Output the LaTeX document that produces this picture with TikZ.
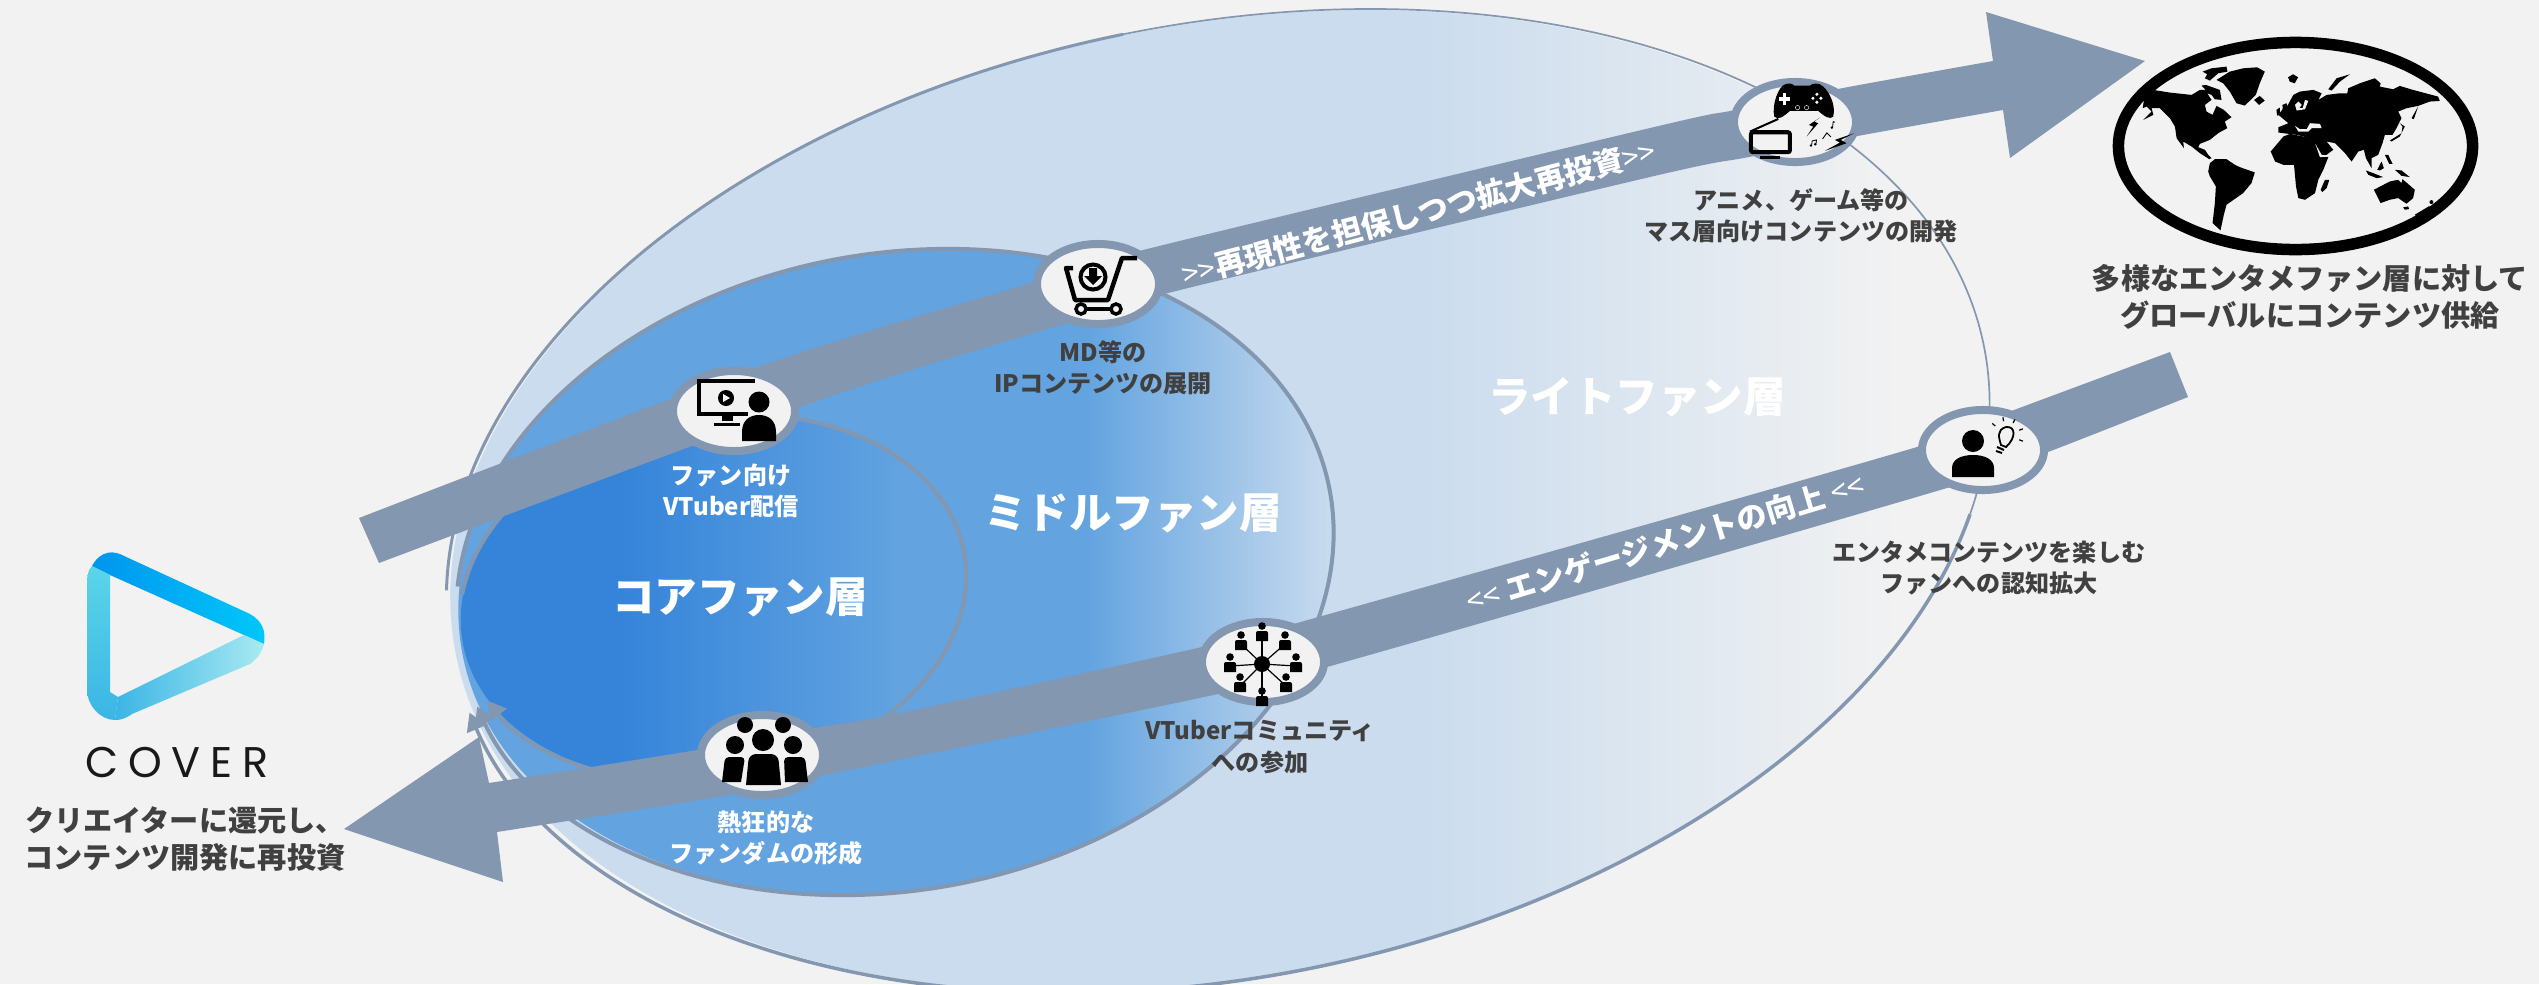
\documentclass[tikz,border=0pt]{standalone}
\usepackage{fontspec}
\usepackage{tikz}
\usetikzlibrary{shapes.geometric,arrows.meta}
\newfontfamily\jpfont{Noto Sans CJK JP}
\newfontfamily\coverfont[LetterSpace=23]{Poppins}
\definecolor{paperGrey}{HTML}{F2F2F2}
\definecolor{lightFan}{HTML}{CADCEE}
\definecolor{middleFan}{HTML}{62A3E0}
\definecolor{coreFan}{HTML}{3584DA}
\definecolor{flowGrey}{HTML}{8497B0}
\definecolor{labelGrey}{HTML}{404040}
\definecolor{logoDeep}{HTML}{0095EE}
\definecolor{logoSky}{HTML}{00C8FA}
\definecolor{logoAqua}{HTML}{5AD5E8}
\definecolor{logoMid}{HTML}{3BB5E5}
\definecolor{logoTeal}{HTML}{5FDCEA}
\definecolor{logoPale}{HTML}{A8EAF2}
\tikzset{
  iconring/.style={ellipse,draw=flowGrey,fill=paperGrey,line width=0.08cm,minimum width=1.22cm,minimum height=0.80cm,inner sep=0pt},
  layertitle/.style={text=white,font=\jpfont\bfseries\fontsize{12.1}{14}\selectfont},
  smalldark/.style={align=center,text=labelGrey,font=\jpfont\bfseries\fontsize{6.85}{8.9}\selectfont},
  smallwhite/.style={align=center,text=white,font=\jpfont\bfseries\fontsize{6.85}{8.9}\selectfont},
  bigdark/.style={align=center,text=labelGrey,font=\jpfont\bfseries\fontsize{8.3}{10.4}\selectfont},
  flowtext/.style={text=white,font=\jpfont\bfseries\fontsize{8.6}{10}\selectfont},
  ringtip/.style={-{Triangle[length=0.18cm,width=0.2cm]},draw=flowGrey},
}
\begin{document}
\begin{tikzpicture}[x=0.01cm,y=-0.01cm]
	\path[use as bounding box,clip] (0,0) rectangle (2539,984);
	\fill[paperGrey] (0,0) rectangle (2539,984);
	% fan layers
	\begin{scope}
		\clip[rotate around={11.5:(1218,501)}] (1218,501) ellipse [x radius=7.77cm,y radius=4.75cm];
		\fill[lightFan] (400,0) rectangle (1420,1000);
		\shade[left color=lightFan,right color=paperGrey] (1420,0) rectangle (1900,1000);
		\fill[paperGrey] (1900,0) rectangle (2050,1000);
	\end{scope}
	\begin{scope}
		\clip[rotate around={10.6:(895,572)}] (895,572) ellipse [x radius=4.40cm,y radius=3.17cm];
		\fill[middleFan] (400,200) rectangle (1085,950);
		\shade[left color=middleFan,right color=lightFan] (1085,200) rectangle (1335,950);
	\end{scope}
	\begin{scope}
		\clip[rotate around={10:(713,598)}] (713,598) ellipse [x radius=2.54cm,y radius=1.80cm];
		\fill[coreFan] (400,380) rectangle (620,820);
		\shade[left color=coreFan,right color=middleFan] (620,380) rectangle (900,820);
		\fill[middleFan] (900,380) rectangle (980,820);
	\end{scope}
	% outlines, open at the left
	\begin{scope}[shift={(1218,501)},rotate=11.5]
		\draw[flowGrey,line width=0.03cm] (172:7.81cm and 4.76cm) arc [start angle=172,delta angle=-82,x radius=7.81cm,y radius=4.76cm];
		\draw[flowGrey,line width=0.017cm] (90:7.81cm and 4.76cm) arc [start angle=90,delta angle=-110,x radius=7.81cm,y radius=4.76cm];
		\draw[ringtip,line width=0.035cm] (-20:7.81cm and 4.76cm) arc [start angle=-20,delta angle=-153,x radius=7.81cm,y radius=4.76cm];
	\end{scope}
	\begin{scope}[shift={(895,572)},rotate=10.6]
		\draw[ringtip,line width=0.04cm] (168:4.42cm and 3.18cm) arc [start angle=168,delta angle=-338,x radius=4.42cm,y radius=3.18cm];
	\end{scope}
	\begin{scope}[shift={(713,598)},rotate=10]
		\draw[ringtip,line width=0.04cm] (165:2.55cm and 1.81cm) arc [start angle=165,delta angle=-325,x radius=2.55cm,y radius=1.81cm];
	\end{scope}
	% flows
	\fill[flowGrey] plot[smooth] coordinates {(359,518) (755,368) (1034,282) (1143,250) (1650,128) (1735,110) (1843,88) (1993,61)}
		-- (1986,12) -- (2145,61) -- (2010,158) -- (2003,110)
		-- plot[smooth] coordinates {(2003,110) (1863,135) (1749,157) (1650,177) (1168,293) (1067,323) (805,405) (379,563)} -- cycle;
	\fill[flowGrey] plot[smooth] coordinates {(2170,352) (2014,410) (1917,447) (1297,623) (1202,647) (900,713) (815,728) (697,750) (489,783)}
		-- (479,737) -- (344,829) -- (503,882) -- (497,832)
		-- plot[smooth] coordinates {(497,832) (729,795) (815,777) (1204,697) (1327,667) (1947,488) (2048,452) (2188,397)} -- cycle;
	\node[flowtext,rotate=14.8] (upflow) at (1419,213) {{\mdseries >>}再現性を担保しつつ拡大再投資{\mdseries >>}};
	\node[flowtext,rotate=16.7] (downflow) at (1665,543) {{\mdseries <<} エンゲージメントの向上 {\mdseries <<}};
	% icon rings
	\node[iconring] (streamring) at (734,411) {};
	\node[iconring] (goodsring) at (1098,284) {};
	\node[iconring] (gamering) at (1795,122) {};
	\node[iconring] (fandomring) at (762,755) {};
	\node[iconring] (communityring) at (1263,662) {};
	\node[iconring] (idearing) at (1983,450) {};
	% stream icon
	\draw[line width=0.035cm] (755,381) -- (699,381) -- (699,414) -- (748,414);
	\fill (726,398) circle [radius=0.08cm];
	\fill[white] (723,394) -- (723,402) -- (730,398) -- cycle;
	\fill (722,415) rectangle (733,421);
	\fill (714,423) rectangle (740,426);
	\fill (759,402) circle [radius=0.105cm];
	\fill (742,441) -- (742,432) .. controls (742,420) and (750,415) .. (759,415) .. controls (768,415) and (776,420) .. (776,432) -- (776,441) -- cycle;
	% goods icon
	\draw[line width=0.045cm,line join=round] (1137,258) -- (1122,258) -- (1108,300) -- (1075,300) -- (1066,268) -- (1073,268);
	\draw[line width=0.04cm] (1093,277) circle [radius=0.125cm];
	\fill (1089,268) -- (1097,268) -- (1097,276) -- (1102,276) -- (1093,285) -- (1084,276) -- (1089,276) -- cycle;
	\draw[line width=0.035cm] (1081,309) -- (1116,309);
	\draw[line width=0.035cm,fill=paperGrey] (1081,309) circle [radius=0.05cm];
	\draw[line width=0.035cm,fill=paperGrey] (1116,309) circle [radius=0.05cm];
	% game icon
	\begin{scope}[shift={(1735,75)},x=0.00333cm,y=-0.00333cm]
		\fill (118,125) .. controls (110,90) and (130,35) .. (150,28) .. controls (165,22) and (175,28) .. (178,32) -- (225,32) .. controls (232,25) and (245,24) .. (255,28) .. controls (280,40) and (305,90) .. (295,125) .. controls (285,135) and (270,125) .. (250,108) -- (165,108) .. controls (145,125) and (130,137) .. (118,125) -- cycle;
		\fill[white] (143,55) rectangle (153,90);
		\fill[white] (131,67) rectangle (165,77);
		\foreach \bx/\by in {246/58,246/82,234/70,258/70} {
			\fill[white] (\bx,\by) circle [radius=0.017cm];
		}
		\draw[white,line width=0.004cm] (188,98) circle [radius=0.022cm];
		\draw[white,line width=0.004cm] (215,98) circle [radius=0.022cm];
		\draw[line width=0.02cm] (130,132) -- (45,170);
		\draw[line width=0.04cm,rounded corners=0.02cm] (48,172) rectangle (165,232);
		\fill (75,243) rectangle (135,251);
		\fill (255,128) -- (222,150) -- (235,155) -- (215,185) -- (250,145) -- (238,140) -- cycle;
		\fill (358,175) -- (300,195) -- (315,203) -- (270,228) -- (335,205) -- (318,195) -- cycle;
		\draw[line width=0.008cm] (230,212) -- (232,198) -- (245,195) -- (243,208);
		\fill (228,212) circle [radius=0.013cm];
		\fill (241,208) circle [radius=0.013cm];
		\draw[line width=0.008cm] (293,158) -- (295,140) -- (300,142);
		\fill (291,158) circle [radius=0.013cm];
		\draw[line width=0.009cm] (263,192) -- (276,174) -- (288,186);
	\end{scope}
	% fandom icon
	\fill (745,725) circle [radius=0.08cm];
	\fill (783,725) circle [radius=0.08cm];
	\fill (735,745) circle [radius=0.09cm];
	\fill (793,745) circle [radius=0.09cm];
	\fill (763,740) circle [radius=0.11cm];
	\fill (722,782) {[rounded corners=0.04cm] -- (725,757) -- (745,757)} -- (741,782) -- cycle;
	\fill (785,782) {[rounded corners=0.04cm] -- (784,757) -- (805,757)} -- (808,782) -- cycle;
	\fill (746,785) {[rounded corners=0.07cm] -- (749,754) -- (778,754)} -- (781,785) -- cycle;
	% community icon
	\fill (1262,664) circle [radius=0.08cm];
	\foreach \fx/\fy in {1262/626,1241/635,1285/635,1230/657,1296/657,1240/677,1286/677,1262/691} {
		\draw[line width=0.012cm] (1262,664) -- (\fx,\fy+9);
		\fill (\fx,\fy) circle [radius=0.038cm];
		\fill (\fx-6,\fy+15) {[rounded corners=0.02cm] -- (\fx-6,\fy+5) -- (\fx+6,\fy+5)} -- (\fx+6,\fy+15) -- cycle;
	}
	% idea icon
	\fill (1973,441) circle [radius=0.11cm];
	\fill (1952,477) -- (1952,468) .. controls (1952,460) and (1960,455) .. (1973,455) .. controls (1986,455) and (1994,460) .. (1994,468) -- (1994,477) -- cycle;
	\draw[line width=0.018cm] (2001,445) .. controls (1999,438) and (1996,430) .. (2006,427) .. controls (2016,426) and (2016,438) .. (2006,447) -- cycle;
	\draw[line width=0.02cm] (1997,447) -- (2004,450);
	\draw[line width=0.02cm] (1996,451) -- (2002,453);
	\foreach \rayangle in {-5,35,75,115,155} {
		\draw[line width=0.012cm] ([shift={(\rayangle-15:0.14cm)}]2006,435) -- ([shift={(\rayangle-15:0.18cm)}]2006,435);
	}
	% world
	\node[ellipse,draw=black,line width=0.115cm,minimum width=3.54cm,minimum height=2.07cm,inner sep=0pt] (worldring) at (2295.5,146) {};
	\begin{scope}[shift={(2120,40)},x=0.00333cm,y=-0.00333cm]
		\fill (100,150) -- (150,158) -- (215,165) -- (240,150) -- (258,150) -- (245,137) -- (258,135) -- (300,150) -- (305,180) -- (285,178) -- (275,165) -- (262,160) -- (275,180) -- (255,195) -- (260,215) -- (278,225) -- (290,198) -- (312,210) -- (335,232) -- (315,245) -- (322,265) -- (295,280) -- (270,300) -- (240,312) -- (235,322) -- (255,330) -- (265,345) -- (275,355) -- (268,358) -- (240,340) -- (215,320) -- (190,305) -- (192,325) -- (170,295) -- (165,260) -- (150,235) -- (120,205) -- (95,205) -- (100,225) -- (70,240) -- (95,215) -- (80,200) -- (68,205) -- (72,180) -- cycle;
		\fill (248,95) -- (275,85) -- (320,80) -- (323,95) -- (295,100) -- (270,122) -- (255,115) -- (262,103) -- cycle;
		\fill (290,120) -- (330,95) -- (370,85) -- (412,82) -- (435,95) -- (420,130) -- (408,165) -- (375,197) -- (350,190) -- (330,155) -- (310,130) -- cycle;
		\fill (403,180) -- (420,168) -- (435,182) -- (418,195) -- cycle;
		\fill (265,395) -- (270,370) -- (285,358) -- (320,358) -- (345,375) -- (360,382) -- (405,398) -- (395,430) -- (370,460) -- (320,495) -- (312,525) -- (302,572) -- (278,550) -- (285,490) -- (288,440) -- (270,410) -- cycle;
		\fill (505,112) -- (520,103) -- (535,112) -- (525,130) -- (510,125) -- cycle;
		\fill (488,195) -- (500,190) -- (510,220) -- (500,235) -- (490,225) -- cycle;
		\fill (470,210) -- (480,203) -- (480,225) -- (472,227) -- cycle;
	\end{scope}
	\begin{scope}[shift={(2290,40)},x=0.00333cm,y=-0.00333cm]
		\fill (-58,335) -- (-20,290) -- (0,282) -- (40,290) -- (75,295) -- (80,320) -- (100,350) -- (115,352) -- (100,390) -- (85,420) -- (75,460) -- (45,480) -- (25,475) -- (18,440) -- (12,375) -- (-20,375) -- (-45,365) -- cycle;
		\fill (-35,262) -- (-5,250) -- (-35,225) -- (-20,205) -- (-8,198) -- (10,165) -- (30,155) -- (70,150) -- (95,160) -- (85,180) -- (110,165) -- (150,160) -- (172,160) -- (175,145) -- (210,130) -- (255,115) -- (272,130) -- (270,140) -- (310,148) -- (330,138) -- (370,150) -- (445,170) -- (450,183) -- (420,185) -- (385,198) -- (350,205) -- (325,215) -- (335,235) -- (320,265) -- (308,285) -- (285,285) -- (278,310) -- (265,345) -- (245,355) -- (245,385) -- (228,355) -- (222,330) -- (205,335) -- (185,365) -- (165,340) -- (135,310) -- (110,305) -- (130,330) -- (110,345) -- (88,345) -- (78,315) -- (60,295) -- (20,285) -- (-20,280) -- (-35,278) -- cycle;
		\fill[paperGrey] (45,180) -- (55,183) -- (45,208) -- (20,212) -- (15,195) -- (25,185) -- (35,195) -- (28,205) -- (38,205) -- cycle;
		\fill[paperGrey] (60,250) -- (90,252) -- (95,265) -- (65,265) -- (55,275) -- (25,275) -- (15,258) -- (30,268) -- (50,268) -- cycle;
		\fill[paperGrey] (76,312) -- (95,345) -- (115,350) -- (90,352) -- cycle;
		\fill (115,148) -- (140,115) -- (180,103) -- (150,125) -- (125,152) -- cycle;
		\fill (365,235) -- (385,200) -- (372,238) -- cycle;
		\fill (300,302) -- (335,280) -- (338,260) -- (330,250) -- (345,260) -- (330,290) -- (305,305) -- cycle;
		\fill (285,345) -- (295,345) -- (308,372) -- (298,372) -- cycle;
		\fill (262,390) -- (275,365) -- (282,385) -- (270,392) -- cycle;
		\fill (228,392) -- (250,400) -- (280,412) -- (260,415) -- (235,405) -- cycle;
		\fill (315,390) -- (335,392) -- (360,412) -- (335,408) -- cycle;
		\fill (252,450) -- (300,425) -- (325,420) -- (335,430) -- (338,418) -- (375,450) -- (370,475) -- (350,492) -- (325,475) -- (300,480) -- (272,490) -- (262,470) -- cycle;
		\fill (340,503) -- (355,500) -- (358,508) -- (345,510) -- cycle;
		\fill (375,525) -- (420,498) -- (415,508) -- (380,530) -- cycle;
		\fill (425,487) circle [radius=0.02cm];
		\fill (92,450) -- (105,420) -- (118,420) -- (110,445) -- (97,457) -- cycle;
	\end{scope}
	% cover logo
	\shade[left color=logoDeep,right color=logoSky] (92,566) .. controls (97,556) and (108,548) .. (122,555) -- (250,614) .. controls (262,621) and (266,630) .. (264,644) -- (244,635) -- (110,575) -- cycle;
	\shade[top color=logoAqua,bottom color=logoMid] (92,566) .. controls (88,570) and (87,576) .. (87,584) -- (87,690) .. controls (87,705) and (100,720) .. (115,720) -- (118,697) -- (110,692) -- (110,575) -- cycle;
	\shade[left color=logoMid,middle color=logoTeal,right color=logoPale] (118,697) -- (244,635) -- (264,644) .. controls (262,652) and (258,658) .. (250,664) -- (132,714) .. controls (125,719) and (120,720) .. (115,720) -- cycle;
	\node[text=black!90,font=\coverfont\fontsize{12.2}{14}\selectfont] (covername) at (177,762) {COVER};
	% texts
	\node[bigdark] (coverlabel) at (185,839) {クリエイターに還元し、\\コンテンツ開発に再投資};
	\node[bigdark] (worldlabel) at (2310,297) {多様なエンタメファン層に対して\\グローバルにコンテンツ供給};
	\node[layertitle] (coretitle) at (740,597) {コアファン層};
	\node[layertitle] (middletitle) at (1133,513) {ミドルファン層};
	\node[layertitle] (lighttitle) at (1637,397) {ライトファン層};
	\node[smallwhite] (streamlabel) at (731,491) {ファン向け\\VTuber配信};
	\node[smalldark] (goodslabel) at (1103,368) {MD等の\\IPコンテンツの展開};
	\node[smalldark] (gamelabel) at (1801,216) {アニメ、ゲーム等の\\マス層向けコンテンツの開発};
	\node[smallwhite] (fandomlabel) at (766,838) {熱狂的な\\ファンダムの形成};
	\node[smalldark] (communitylabel) at (1260,747) {VTuberコミュニティ\\への参加};
	\node[smalldark] (idealabel) at (1989,568) {エンタメコンテンツを楽しむ\\ファンへの認知拡大};
\end{tikzpicture}
\end{document}
